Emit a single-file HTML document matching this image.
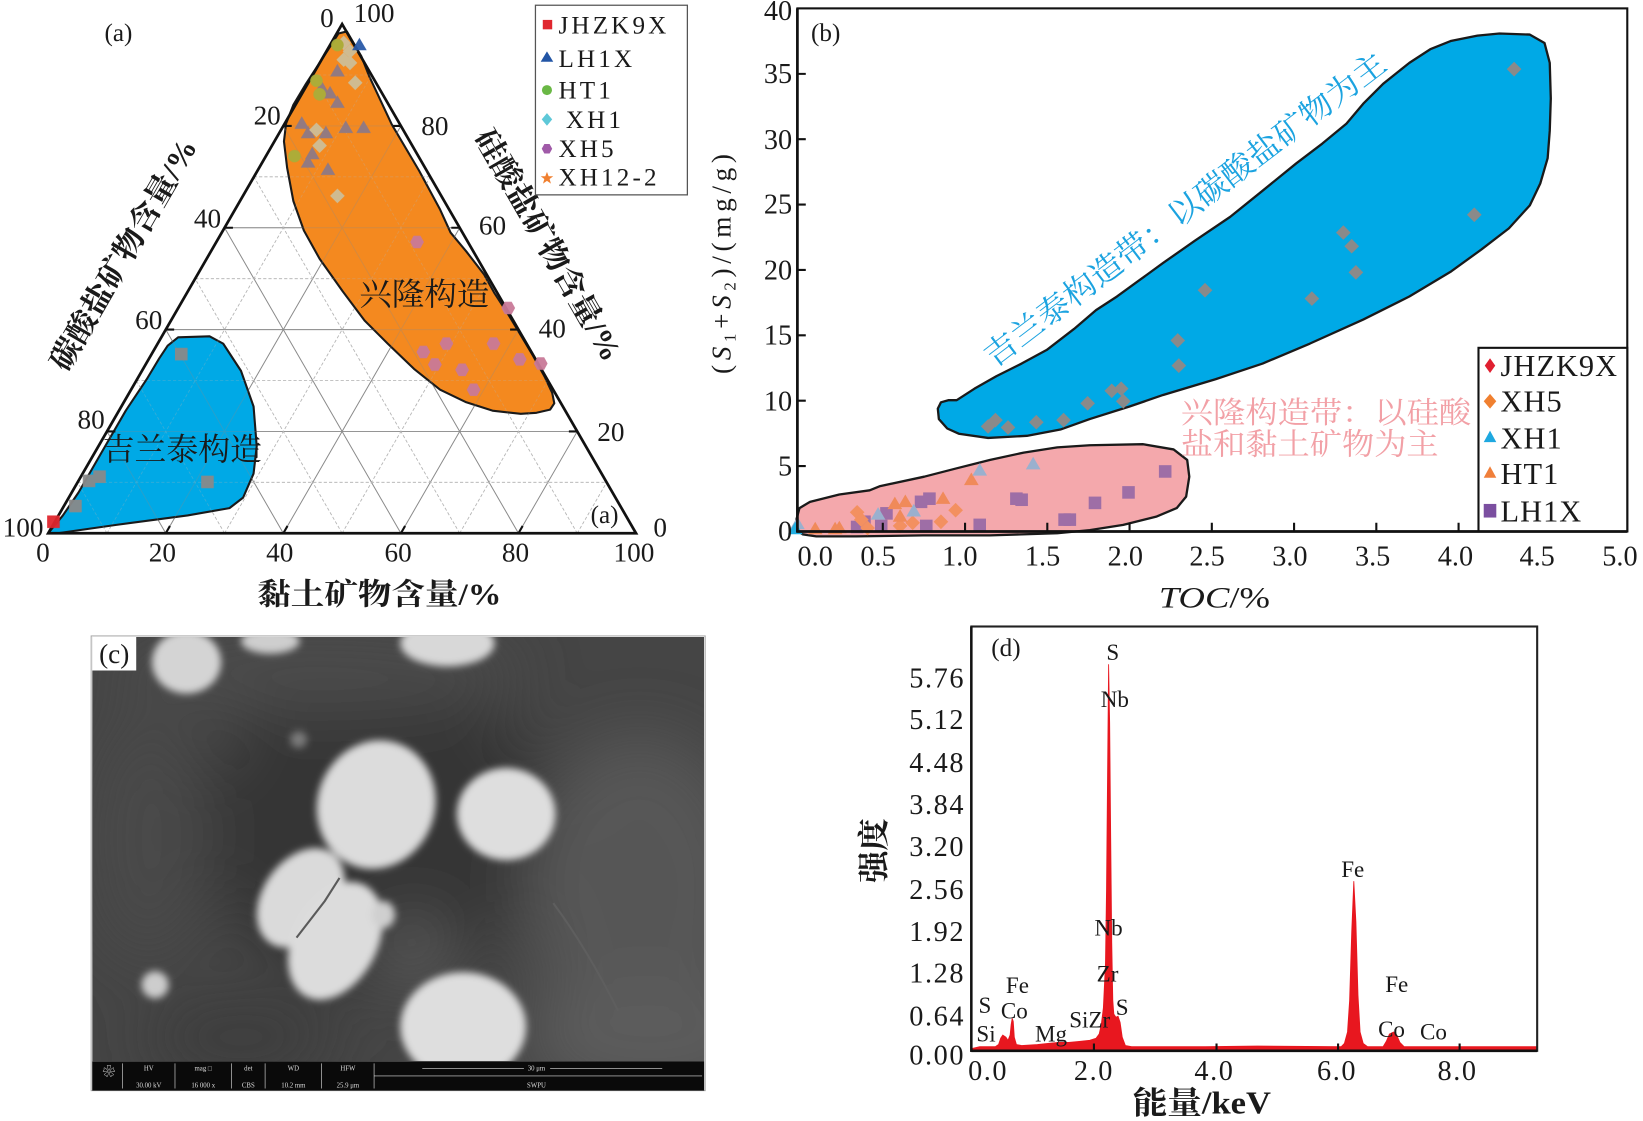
<!DOCTYPE html>
<html><head><meta charset="utf-8"><style>
html,body{margin:0;padding:0;background:#fff;}
svg{display:block;}
text{font-family:"Liberation Serif","Noto Serif CJK SC",serif;fill:#1a1a1a;}
.cjk{font-family:"Liberation Serif","Noto Serif CJK SC","Noto Sans CJK SC",serif;}
</style></head><body>
<svg width="1643" height="1121" viewBox="0 0 1568 1070" preserveAspectRatio="none" xmlns="http://www.w3.org/2000/svg">
<defs>
<path id="sq" d="M-6,-6h12v12h-12z"/>
<path id="tri" d="M0,-7L7,5H-7z"/>
<path id="dia" d="M0,-7L7,0L0,7L-7,0z"/>
<circle id="cir" r="6"/>
<path id="hex" d="M-3.3,-6H3.3L6.6,0L3.3,6H-3.3L-6.6,0z"/>
<path id="star" d="M0,-6L1.6,-1.8L6,-1.8L2.5,0.9L3.8,5.3L0,2.6L-3.8,5.3L-2.5,0.9L-6,-1.8L-1.6,-1.8z"/>
<filter id="blur3" x="-30%" y="-30%" width="160%" height="160%"><feGaussianBlur stdDeviation="3.6"/></filter>
<filter id="blur25" x="-60%" y="-60%" width="220%" height="220%"><feGaussianBlur stdDeviation="30"/></filter>
<clipPath id="semclip"><rect x="88" y="608" width="584" height="405"/></clipPath>
<g id="grid">
<g stroke="#8a8a8a" stroke-width="0.9" fill="none">
<path d="M270.4,120.2H382.6M214.3,217.4H438.7M158.2,314.6H494.8M102.1,411.8H550.9"/>
<path d="M158.2,509L382.6,120.2M270.4,509L438.7,217.4M382.6,509L494.8,314.6M494.8,509L550.9,411.8"/>
<path d="M158.2,509L102.1,411.8M270.4,509L158.2,314.6M382.6,509L214.3,217.4M494.8,509L270.4,120.2"/>
</g>
<g stroke="#b5b5b5" stroke-width="0.8" fill="none" stroke-dasharray="3,2">
<path d="M298.4,71.6H354.6M242.3,168.8H410.7M186.2,266H466.8M130.1,363.2H522.9M74,460.4H579"/>
<path d="M102.1,509L354.6,71.6M214.3,509L410.7,168.8M326.5,509L466.8,266M438.7,509L522.9,363.2M550.9,509L579,460.4"/>
<path d="M102.1,509L74,460.4M214.3,509L130.1,363.2M326.5,509L186.2,266M438.7,509L242.3,168.8M550.9,509L298.4,71.6"/>
</g>
</g>
</defs>
<rect x="0" y="0" width="1568" height="1070" fill="#fff"/>

<!-- ================= PANEL A ================= -->
<use href="#grid"/>
<path d="M331,30 L345,54 L352,72 L374,119 L400,163 L420,200 L430,222 L445,240 L462,262 L472,280 L485,300 L497,320 L509,340 L520,360 L527,375 L529,385 L525,391 L512,394 L497,395 L470,392 L445,384 L420,372 L395,352 L370,328 L348,306 L327,278 L305,247 L290,220 L280,192 L274,160 L271,135 L273,118 L280,100 L292,80 L305,60 L316,43 L323,32 Z" fill="#F4891F" stroke="#1a1a1a" stroke-width="2" stroke-linejoin="round"/>
<path d="M46,509 L60,492 L75,470 L98,430 L120,392 L140,362 L152,342 L160,330 L170,322 L200,321 L213,328 L230,354 L242,388 L245,426 L242,452 L232,475 L219,485 L179,492 L111,501 L55,509 Z" fill="#00A9E6" stroke="#1a1a1a" stroke-width="2" stroke-linejoin="round"/>
<g opacity="0.3"><use href="#grid"/></g>
<path d="M46,509 L607,509 L326.5,23 Z" fill="none" stroke="#111" stroke-width="2.6" stroke-linejoin="miter"/>
<g stroke="#111" stroke-width="2">
<path d="M270.4,120.2h8M214.3,217.4h8M158.2,314.6h8M102.1,411.8h8"/>
<path d="M382.6,120.2h-8M438.7,217.4h-8M494.8,314.6h-8M550.9,411.8h-8"/>
<path d="M158.2,509l4,-7M270.4,509l4,-7M382.6,509l4,-7M494.8,509l4,-7"/>
</g>
<g opacity="0.95">
<g fill="#8E7A86">
<use href="#tri" x="322" y="68"/><use href="#tri" x="307" y="84"/><use href="#tri" x="315" y="89"/><use href="#tri" x="322" y="98"/>
<use href="#tri" x="288" y="118"/><use href="#tri" x="294" y="127"/><use href="#tri" x="311" y="127"/><use href="#tri" x="330" y="122"/><use href="#tri" x="347" y="122"/>
<use href="#tri" x="298" y="147"/><use href="#tri" x="294" y="155"/><use href="#tri" x="313" y="162"/>
</g>
<g fill="#CDBE98">
<use href="#dia" x="328" y="41"/><use href="#dia" x="334" y="49"/><use href="#dia" x="328" y="57"/><use href="#dia" x="334" y="60"/><use href="#dia" x="339" y="79"/><use href="#dia" x="302" y="124"/><use href="#dia" x="305" y="139"/><use href="#dia" x="322" y="187"/>
</g>
<g fill="#A9AE3A">
<use href="#cir" x="322" y="43"/><use href="#cir" x="302" y="77"/><use href="#cir" x="305" y="90"/><use href="#cir" x="281" y="149"/>
</g>
<use href="#tri" x="343" y="43" fill="#2A5AA8"/>
<g fill="#C97A98">
<use href="#hex" x="398" y="231"/><use href="#hex" x="485" y="294"/><use href="#hex" x="404" y="336"/><use href="#hex" x="415" y="348"/><use href="#hex" x="426" y="328"/><use href="#hex" x="441" y="353"/><use href="#hex" x="452" y="372"/><use href="#hex" x="471" y="328"/><use href="#hex" x="496" y="343"/><use href="#hex" x="516" y="347"/>
</g>
<g fill="#8A8A8A">
<use href="#sq" x="173" y="338"/><use href="#sq" x="95" y="455"/><use href="#sq" x="85" y="459"/><use href="#sq" x="198" y="460"/><use href="#sq" x="72" y="483"/>
</g>
<use href="#sq" x="51" y="498" fill="#E0262E"/>
</g>
<g font-size="26" text-anchor="middle">
<text x="41" y="536">0</text><text x="155" y="536">20</text><text x="267" y="536">40</text><text x="380" y="536">60</text><text x="492" y="536">80</text><text x="605" y="536">100</text>
<text x="312" y="26">0</text><text x="255" y="119">20</text><text x="198" y="217">40</text><text x="142" y="314">60</text><text x="87" y="409">80</text><text x="22" y="512">100</text>
<text x="357" y="21">100</text><text x="415" y="129">80</text><text x="470" y="224">60</text><text x="527" y="322">40</text><text x="583" y="421">20</text><text x="630" y="512">0</text>
</g>
<text x="113" y="39" font-size="24" text-anchor="middle">(a)</text>
<text x="577" y="499" font-size="24" text-anchor="middle">(a)</text>
<text x="405" y="291" font-size="30" text-anchor="middle" class="cjk" textLength="124" lengthAdjust="spacingAndGlyphs">兴隆构造</text>
<text x="174" y="439" font-size="30" text-anchor="middle" class="cjk" textLength="152" lengthAdjust="spacingAndGlyphs">吉兰泰构造</text>
<text x="362" y="577" font-size="29" font-weight="bold" text-anchor="middle" class="cjk" textLength="233" lengthAdjust="spacingAndGlyphs">黏土矿物含量/%</text>
<text transform="translate(118,243) rotate(-60)" font-size="29" font-weight="bold" text-anchor="middle" dominant-baseline="central" class="cjk" textLength="250" lengthAdjust="spacingAndGlyphs">碳酸盐矿物含量/%</text>
<text transform="translate(523,234) rotate(60)" font-size="29" font-weight="bold" text-anchor="middle" dominant-baseline="central" class="cjk" textLength="250" lengthAdjust="spacingAndGlyphs">硅酸盐矿物含量/%</text>
<rect x="511" y="5" width="145" height="181" fill="#fff" stroke="#555" stroke-width="1.2"/>
<rect x="518" y="19" width="9" height="9" fill="#E0262E"/>
<path d="M522,49 L528,59 L516,59 Z" fill="#2255A5"/>
<circle cx="522" cy="86" r="4.8" fill="#6AB845"/>
<path d="M522,108 L527,114 L522,120 L517,114 Z" fill="#5EC8D8"/>
<path d="M519.5,137.5H524.5L527,142L524.5,146.5H519.5L517,142Z" fill="#A05AA8"/>
<use href="#star" x="522" y="170" fill="#F08030"/>
<g font-size="24" letter-spacing="3">
<text x="533" y="32">JHZK9X</text>
<text x="533" y="64">LH1X</text>
<text x="533" y="94">HT1</text>
<text x="540" y="122">XH1</text>
<text x="533" y="150">XH5</text>
<text x="533" y="177">XH12-2</text>
</g>

<!-- ================= PANEL B ================= -->
<path d="M760,496 L763,485 L773,479 L801,472 L830,468 L840,464 L882,455 L913,447 L945,439 L977,432 L1009,427 L1040,425 L1091,424 L1120,429 L1133,439 L1135,455 L1132,474 L1123,485 L1104,493 L1072,501 L1040,506 L1009,509 L945,511 L881,511 L817,512 L779,512 L766,510 L760,506 Z" fill="#F4A8AC" stroke="#1a1a1a" stroke-width="2.2" stroke-linejoin="round"/>
<path d="M895,390 L898,384 L905,382 L913,382 L930,371 L951,359 L975,347 L999,334 L1025,314 L1046,296 L1066,283 L1088,267 L1110,251 L1140,230 L1174,207 L1205,182 L1237,156 L1262,137 L1285,118 L1301,99 L1320,80 L1345,60 L1365,47 L1385,39 L1410,34 L1431,32 L1460,33 L1474,41 L1479,60 L1480,94 L1479,125 L1477,151 L1470,175 L1460,196 L1440,218 L1414,238 L1385,259 L1345,283 L1301,305 L1250,328 L1205,347 L1160,362 L1110,377 L1078,388 L1040,400 L1012,410 L980,416 L943,418 L915,414 L904,409 L896,400 Z" fill="#00A9E6" stroke="#1a1a1a" stroke-width="2.2" stroke-linejoin="round"/>
<g fill="#8A8A8A">
<use href="#dia" x="1445" y="66"/><use href="#dia" x="1407" y="205"/><use href="#dia" x="1282" y="222"/><use href="#dia" x="1290" y="235"/><use href="#dia" x="1294" y="260"/><use href="#dia" x="1252" y="285"/><use href="#dia" x="1150" y="277"/><use href="#dia" x="1124" y="325"/><use href="#dia" x="1125" y="349"/><use href="#dia" x="1061" y="373"/><use href="#dia" x="1070" y="371"/><use href="#dia" x="1072" y="383"/><use href="#dia" x="1038" y="385"/><use href="#dia" x="1015" y="401"/><use href="#dia" x="989" y="403"/><use href="#dia" x="962" y="408"/><use href="#dia" x="943" y="407"/><use href="#dia" x="950" y="401"/>
</g>
<g fill="#9E6EA6">
<use href="#sq" x="1112" y="450"/><use href="#sq" x="1077" y="470"/><use href="#sq" x="1045" y="480"/><use href="#sq" x="1016" y="496"/><use href="#sq" x="1021" y="496"/><use href="#sq" x="935" y="501"/><use href="#sq" x="970" y="476"/><use href="#sq" x="975" y="477"/><use href="#sq" x="887" y="476"/><use href="#sq" x="879" y="479"/><use href="#sq" x="884" y="502"/><use href="#sq" x="846" y="490"/><use href="#sq" x="841" y="502"/><use href="#sq" x="825" y="498"/><use href="#sq" x="818" y="503"/>
</g>
<g fill="#F39060">
<use href="#dia" x="912" y="487"/><use href="#dia" x="898" y="498"/><use href="#dia" x="871" y="499"/><use href="#dia" x="859" y="502"/><use href="#dia" x="818" y="489"/><use href="#dia" x="828" y="504"/><use href="#dia" x="822" y="496"/>
</g>
<g fill="#F08A5A">
<use href="#tri" x="927" y="458"/><use href="#tri" x="900" y="476"/><use href="#tri" x="864" y="479"/><use href="#tri" x="854" y="481"/><use href="#tri" x="859" y="493"/><use href="#tri" x="801" y="504"/><use href="#tri" x="778" y="505"/><use href="#tri" x="797" y="505"/>
</g>
<g fill="#9AB0CE">
<use href="#tri" x="935" y="449"/><use href="#tri" x="986" y="443"/><use href="#tri" x="872" y="488"/><use href="#tri" x="838" y="491"/><use href="#tri" x="761" y="500"/>
</g>
<use href="#tri" x="759" y="505" fill="#22AEE0"/>
<rect x="761" y="8" width="792" height="499.3" fill="none" stroke="#111" stroke-width="2"/>
<line x1="761" y1="8" x2="761" y2="508" stroke="#111" stroke-width="2.6"/>
<line x1="760" y1="507.3" x2="1553" y2="507.3" stroke="#111" stroke-width="2.6"/>
<g stroke="#111" stroke-width="2">
<path d="M761,444.9h8M761,382.5h8M761,320.1h8M761,257.7h8M761,195.3h8M761,132.9h8M761,70.5h8"/>
<path d="M842.5,507v-8M921,507v-8M999.5,507v-8M1078,507v-8M1156.5,507v-8M1235,507v-8M1313.5,507v-8M1392,507v-8M1470.5,507v-8"/>
</g>
<g font-size="27" text-anchor="end">
<text x="756" y="19">40</text><text x="756" y="79">35</text><text x="756" y="142">30</text><text x="756" y="204">25</text><text x="756" y="267">20</text><text x="756" y="329">15</text><text x="756" y="392">10</text><text x="756" y="454">5</text><text x="756" y="516">0</text>
</g>
<g font-size="27" text-anchor="middle">
<text x="778" y="540">0.0</text><text x="838" y="540">0.5</text><text x="916" y="540">1.0</text><text x="995" y="540">1.5</text><text x="1074" y="540">2.0</text><text x="1152" y="540">2.5</text><text x="1231" y="540">3.0</text><text x="1310" y="540">3.5</text><text x="1389" y="540">4.0</text><text x="1467" y="540">4.5</text><text x="1546" y="540">5.0</text>
</g>
<text x="788" y="39" font-size="24" text-anchor="middle">(b)</text>
<text x="1159" y="580" font-size="28" text-anchor="middle" textLength="106" lengthAdjust="spacingAndGlyphs"><tspan font-style="italic">TOC</tspan>/%</text>
<text transform="translate(697,252) rotate(-90)" font-size="26" text-anchor="middle" textLength="210" lengthAdjust="spacing">(<tspan font-style="italic">S</tspan><tspan font-size="16" dy="5">1</tspan><tspan dy="-5">+</tspan><tspan font-style="italic">S</tspan><tspan font-size="16" dy="5">2</tspan><tspan dy="-5">)/(mg/g)</tspan></text>
<text transform="translate(1131,200) rotate(-37.3)" font-size="30" text-anchor="middle" dominant-baseline="central" class="cjk" style="fill:#1BA3E0" textLength="473" lengthAdjust="spacingAndGlyphs">吉兰泰构造带：以碳酸盐矿物为主</text>
<text x="1127" y="404" font-size="29" class="cjk" style="fill:#F2A0A6" textLength="277" lengthAdjust="spacingAndGlyphs">兴隆构造带：以硅酸</text>
<text x="1127" y="434" font-size="29" class="cjk" style="fill:#F2A0A6" textLength="246" lengthAdjust="spacingAndGlyphs">盐和黏土矿物为主</text>
<rect x="1411" y="332" width="142" height="175" fill="#fff" stroke="#111" stroke-width="2"/>
<path d="M1422,342 L1427,349 L1422,356 L1417,349 Z" fill="#E02030"/>
<path d="M1422,376 L1428,383 L1422,390 L1416,383 Z" fill="#F08030"/>
<path d="M1422,411 L1428,422 L1416,422 Z" fill="#1EA8E0"/>
<path d="M1422,445 L1428,456 L1416,456 Z" fill="#F07F3A"/>
<rect x="1416" y="481" width="12" height="13" fill="#7B4FA0"/>
<g font-size="29" letter-spacing="1">
<text x="1432" y="359">JHZK9X</text>
<text x="1432" y="393">XH5</text>
<text x="1432" y="428">XH1</text>
<text x="1432" y="462">HT1</text>
<text x="1432" y="498">LH1X</text>
</g>

<!-- ================= PANEL C ================= -->
<rect x="87" y="607" width="586" height="434" fill="#fff" stroke="#aaa" stroke-width="1"/>
<g clip-path="url(#semclip)">
<rect x="88" y="608" width="584" height="405" fill="#454545"/>
<g filter="url(#blur25)">
<ellipse cx="360" cy="790" rx="170" ry="150" fill="#363636"/>
<ellipse cx="610" cy="850" rx="110" ry="150" fill="#575757"/>
<ellipse cx="620" cy="990" rx="120" ry="60" fill="#5c5c5c"/>
<ellipse cx="300" cy="640" rx="200" ry="40" fill="#4b4b4b"/>
<ellipse cx="140" cy="800" rx="60" ry="120" fill="#4a4a4a"/>
<ellipse cx="395" cy="908" rx="35" ry="35" fill="#5a5a5a"/>
<ellipse cx="230" cy="990" rx="90" ry="40" fill="#3c3c3c"/>
</g>
<g filter="url(#blur3)">
<ellipse cx="359" cy="768" rx="56" ry="62" transform="rotate(20 359 768)" fill="#dcdcdc"/>
<ellipse cx="483" cy="777" rx="47" ry="44" fill="#dedede"/>
<ellipse cx="287" cy="857" rx="52" ry="36" transform="rotate(-55 287 857)" fill="#dadada"/>
<ellipse cx="320" cy="898" rx="60" ry="40" transform="rotate(-62 320 898)" fill="#dcdcdc"/>
<ellipse cx="366" cy="873" rx="11" ry="13" fill="#cfcfcf"/>
<ellipse cx="442" cy="980" rx="60" ry="52" fill="#dedede"/>
<ellipse cx="178" cy="632" rx="33" ry="30" fill="#d4d4d4"/>
<ellipse cx="258" cy="612" rx="28" ry="12" fill="#cecece"/>
<ellipse cx="427" cy="614" rx="45" ry="22" fill="#d8d8d8"/>
<circle cx="148" cy="940" r="13" fill="#cdcdcd"/>
<circle cx="285" cy="706" r="8" fill="#7a7a7a"/>
</g>
<path d="M324,838 L310,860 L283,895" stroke="#5a5a5a" stroke-width="2" fill="none"/>
<path d="M528,862 Q560,905 590,965" stroke="#5e5e5e" stroke-width="2" fill="none"/>
</g>
<rect x="88" y="1013" width="584" height="28" fill="#0a0a0a"/>
<g stroke="#ddd" stroke-width="0.6" fill="none">
<path d="M117,1015v24M167,1015v24M221,1015v24M253,1015v24M307,1015v24M357,1015v24M357,1027H670"/>
<path d="M403,1020H500M525,1020H632"/>
</g>
<g font-family="Liberation Sans" font-size="6.5" text-anchor="middle">
<text x="142" y="1022" style="fill:#ddd">HV</text><text x="194" y="1022" style="fill:#ddd">mag □</text><text x="237" y="1022" style="fill:#ddd">det</text><text x="280" y="1022" style="fill:#ddd">WD</text><text x="332" y="1022" style="fill:#ddd">HFW</text>
<text x="142" y="1038" style="fill:#ddd">30.00 kV</text><text x="194" y="1038" style="fill:#ddd">16 000 x</text><text x="237" y="1038" style="fill:#ddd">CBS</text><text x="280" y="1038" style="fill:#ddd">10.2 mm</text><text x="332" y="1038" style="fill:#ddd">25.9 μm</text>
<text x="512" y="1022" style="fill:#ddd">30 μm</text><text x="512" y="1038" style="fill:#ddd">SWPU</text>
</g>
<text x="98" y="1027" font-size="12" style="fill:#bbb">❀</text>
<rect x="88" y="608" width="42" height="32" fill="#fff"/>
<text x="109" y="633" font-size="26" text-anchor="middle">(c)</text>

<!-- ================= PANEL D ================= -->
<path d="M927,1001 L935,999 L950,999 L953,997 L955,991 L957,988 L960,990 L962,993 L964,988 L965,978 L966,972 L967,975 L968,990 L970,997 L975,998 L990,997 L1000,996 L1010,995 L1020,995 L1030,994 L1040,993 L1046,991 L1049,987 L1051,978 L1053,962 L1055,920 L1056,850 L1057,740 L1058,634 L1059,690 L1060,800 L1061,900 L1062,955 L1063,968 L1065,971 L1067,970 L1069,976 L1071,990 L1074,998 L1080,999 L1150,999 L1200,998.5 L1280,999 L1283,996 L1286,985 L1288,955 L1290,890 L1292,841 L1294,880 L1296,950 L1298,985 L1301,996 L1305,999 L1320,999 L1323,994 L1326,987 L1330,985 L1333,988 L1336,995 L1340,999 L1467,999 L1467,1002 L927,1002 Z" fill="#E8171F" stroke="#E8171F" stroke-width="0.8"/>
<rect x="927" y="598" width="540" height="405" fill="none" stroke="#222" stroke-width="2"/>
<line x1="927" y1="1003" x2="1467" y2="1003" stroke="#111" stroke-width="2.6"/>
<line x1="927" y1="598" x2="927" y2="1004" stroke="#111" stroke-width="2.4"/>
<g stroke="#111" stroke-width="2"><path d="M1044,1003v-7M1161,1003v-7M1277,1003v-7M1393,1003v-7"/></g>
<g font-size="27" text-anchor="end" letter-spacing="1.5">
<text x="921" y="656">5.76</text><text x="921" y="696">5.12</text><text x="921" y="737">4.48</text><text x="921" y="777">3.84</text><text x="921" y="817">3.20</text><text x="921" y="858">2.56</text><text x="921" y="898">1.92</text><text x="921" y="938">1.28</text><text x="921" y="979">0.64</text><text x="921" y="1016">0.00</text>
</g>
<g font-size="27" text-anchor="middle" letter-spacing="1.5">
<text x="943" y="1031">0.0</text><text x="1044" y="1031">2.0</text><text x="1159" y="1031">4.0</text><text x="1276" y="1031">6.0</text><text x="1391" y="1031">8.0</text>
</g>
<text x="960" y="626" font-size="24" text-anchor="middle">(d)</text>
<g font-size="22" text-anchor="middle">
<text x="1062" y="630">S</text>
<text x="1064" y="675">Nb</text>
<text x="1058" y="893">Nb</text>
<text x="1057" y="937">Zr</text>
<text x="1071" y="969">S</text>
<text x="1040" y="981">SiZr</text>
<text x="1003" y="994">Mg</text>
<text x="971" y="948">Fe</text>
<text x="968" y="972">Co</text>
<text x="940" y="967">S</text>
<text x="941" y="994">Si</text>
<text x="1291" y="837">Fe</text>
<text x="1333" y="947">Fe</text>
<text x="1328" y="990">Co</text>
<text x="1368" y="992">Co</text>
</g>
<text transform="translate(844,812) rotate(-90)" font-size="30" font-weight="bold" text-anchor="middle" class="cjk" textLength="62" lengthAdjust="spacingAndGlyphs">强度</text>
<text x="1147" y="1063" font-size="30" font-weight="bold" text-anchor="middle" class="cjk" textLength="132" lengthAdjust="spacingAndGlyphs">能量/keV</text>
</svg>
</body></html>
